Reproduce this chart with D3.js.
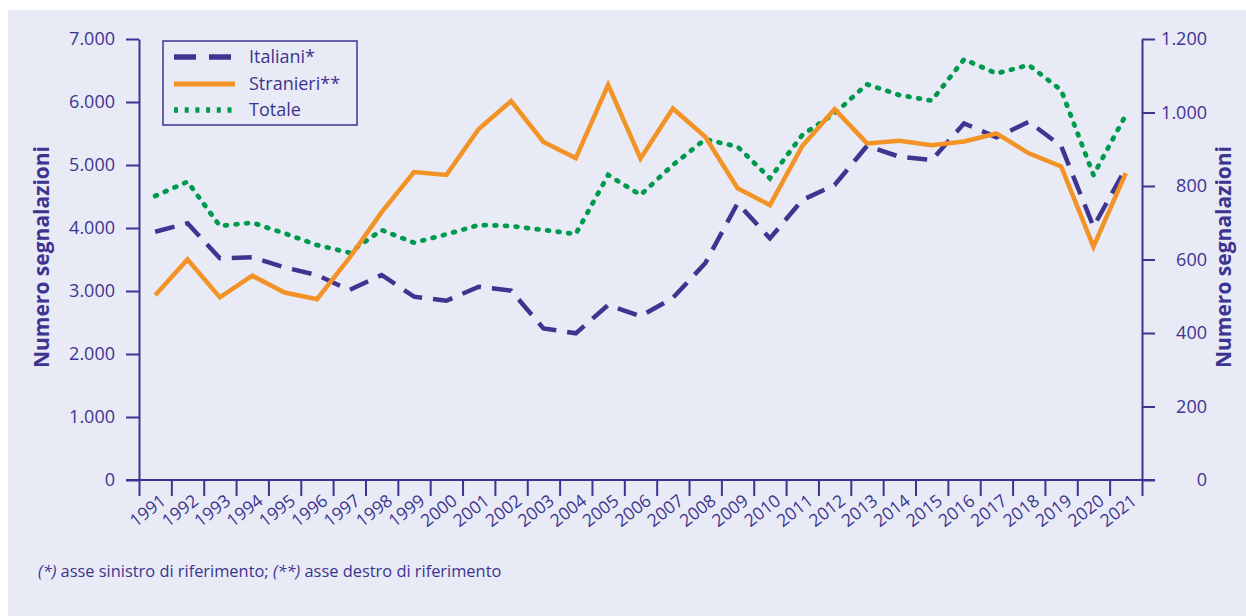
<!DOCTYPE html>
<html>
<head>
<meta charset="utf-8">
<script src="https://cdn.jsdelivr.net/npm/d3@7"></script>
<style>
  body { margin: 0; background: #ffffff; }
  svg { display: block; font-family: "Open Sans", "Noto Sans", sans-serif; }
</style>
</head>
<body>
<div id="okvir"></div>
<script>
// dati
const anni = ["1991","1992","1993","1994","1995","1996","1997","1998","1999","2000",
              "2001","2002","2003","2004","2005","2006","2007","2008","2009","2010",
              "2011","2012","2013","2014","2015","2016","2017","2018","2019","2020","2021"];
// asse sinistro
const italiani = [3941,4075,3519,3535,3376,3254,3016,3254,2910,2846,
                  3068,3005,2407,2328,2778,2600,2890,3440,4392,3836,
                  4444,4683,5302,5132,5079,5661,5439,5687,5302,4021,4947];
// asse destro
const stranieri = [503,600,497,556,510,492,604,729,838,830,
                   955,1031,920,876,1075,875,1011,934,794,748,
                   909,1009,916,923,911,921,943,889,853,635,835];
// asse sinistro
const totale = [4508,4735,4032,4085,3915,3730,3608,3968,3767,3899,
                4048,4032,3968,3905,4841,4524,5000,5408,5291,4789,
                5476,5820,6281,6111,6021,6677,6452,6587,6190,4841,5794];

const tickSinistra = [0,1000,2000,3000,4000,5000,6000,7000];
const tickDestra = [0,200,400,600,800,1000,1200];
const vociLegenda = ["Italiani*","Stranieri**","Totale"];

function disegnaGrafico(){
    // 1. dimenzioni
    let dimensioni = {
        larghezza: 1246,
        altezza: 616,
        sinistra: 139,
        destra: 1142,
        alto: 39,
        basso: 480,
    }

    const colTesto = "#3d3490"
    const colItaliani = "#3f3591"
    const colStranieri = "#f39325"
    const colTotale = "#009a4e"

    // 2. canvas
    const svg = d3.select("#okvir")
        .append("svg")
        .attr("width", dimensioni.larghezza)
        .attr("height", dimensioni.altezza)

    svg.append("rect")
        .attr("x", 8)
        .attr("y", 10)
        .attr("width", dimensioni.larghezza - 8)
        .attr("height", dimensioni.altezza - 10)
        .attr("fill", "#e8ebf6")

    // 3. scale
    const xBanda = d3.scaleBand()
        .domain(anni)
        .range([dimensioni.sinistra, dimensioni.destra])
    const xBordo = d3.scaleLinear()
        .domain([0, anni.length])
        .range([dimensioni.sinistra, dimensioni.destra])
    const ySin = d3.scaleLinear()
        .domain([0, 7000])
        .range([dimensioni.basso, dimensioni.alto])
    const yDes = d3.scaleLinear()
        .domain([0, 1200])
        .range([dimensioni.basso, dimensioni.alto])

    const it = d3.formatLocale({decimal: ",", thousands: ".", grouping: [3], currency: ["€", ""]})
    const formato = it.format(",")

    const xCentro = (d, i) => xBanda(anni[i]) + xBanda.bandwidth() / 2

    // 4. assi
    const assi = svg.append("g")

    // linea orizzontale
    assi.append("line")
        .attr("x1", dimensioni.sinistra - 13)
        .attr("x2", dimensioni.destra + 13)
        .attr("y1", dimensioni.basso)
        .attr("y2", dimensioni.basso)
        .attr("stroke", colTesto)
        .attr("stroke-width", 2)

    const xAsse = assi.append("g")
        .attr("transform", `translate(0,${dimensioni.basso})`)
        .call(d3.axisBottom(xBordo)
            .tickValues(d3.range(0, anni.length + 1))
            .tickSize(16)
            .tickFormat(""))
    xAsse.select(".domain").remove()
    xAsse.selectAll("line").attr("stroke", colTesto).attr("stroke-width", 2)

    assi.append("g")
        .selectAll("text")
        .data(anni)
        .join("text")
        .attr("transform", d => `translate(${xBanda(d) + xBanda.bandwidth() / 2 + 12},${dimensioni.basso + 23}) rotate(-38)`)
        .attr("text-anchor", "end")
        .attr("fill", colTesto)
        .style("font-size", "17.5px")
        .text(d => d)

    const asseSin = assi.append("g")
        .attr("transform", `translate(${dimensioni.sinistra},0)`)
        .call(d3.axisLeft(ySin)
            .tickValues(tickSinistra)
            .tickSize(13)
            .tickSizeOuter(0)
            .tickPadding(11)
            .tickFormat(formato))

    const asseDes = assi.append("g")
        .attr("transform", `translate(${dimensioni.destra},0)`)
        .call(d3.axisRight(yDes)
            .tickValues(tickDestra)
            .tickSize(13)
            .tickSizeOuter(0)
            .tickFormat(formato))
    asseDes.selectAll("text")
        .attr("x", 65)
        .attr("text-anchor", "end")

    ;[asseSin, asseDes].forEach(a => {
        a.select(".domain").attr("stroke", colTesto).attr("stroke-width", 2)
        a.selectAll(".tick line").attr("stroke", colTesto).attr("stroke-width", 2)
        a.selectAll(".tick text")
            .attr("fill", colTesto)
            .style("font-size", "18px")
            .style("font-family", "'Open Sans', sans-serif")
    })

    // titoli assi
    const centroY = 257
    svg.append("text")
        .attr("transform", `translate(49,${centroY}) rotate(-90)`)
        .attr("text-anchor", "middle")
        .attr("fill", colTesto)
        .style("font-size", "21px")
        .style("font-weight", "bold")
        .text("Numero segnalazioni")
    svg.append("text")
        .attr("transform", `translate(1231,${centroY}) rotate(-90)`)
        .attr("text-anchor", "middle")
        .attr("fill", colTesto)
        .style("font-size", "21px")
        .style("font-weight", "bold")
        .text("Numero segnalazioni")

    // 5. linee
    const lineaSin = d3.line().x(xCentro).y(d => ySin(d))
    const lineaDes = d3.line().x(xCentro).y(d => yDes(d))

    svg.append("path")
        .datum(italiani)
        .attr("d", lineaSin)
        .attr("fill", "none")
        .attr("stroke", colItaliani)
        .attr("stroke-width", 4.5)
        .attr("stroke-dasharray", "20,11")

    svg.append("path")
        .datum(totale)
        .attr("d", lineaSin)
        .attr("fill", "none")
        .attr("stroke", colTotale)
        .attr("stroke-width", 4.8)
        .attr("stroke-linecap", "round")
        .attr("stroke-dasharray", "1.8,8.8")

    svg.append("path")
        .datum(stranieri)
        .attr("d", lineaDes)
        .attr("fill", "none")
        .attr("stroke", colStranieri)
        .attr("stroke-width", 4.5)

    // 6. legenda
    const legenda = svg.append("g")
    legenda.append("rect")
        .attr("x", 163)
        .attr("y", 41)
        .attr("width", 194)
        .attr("height", 84)
        .attr("fill", "none")
        .attr("stroke", colTesto)
        .attr("stroke-width", 1.5)

    const stiliLeg = [
        {colore: colItaliani, dash: "22,13"},
        {colore: colStranieri, dash: null},
        {colore: colTotale, dash: "4,6.7"},
    ]
    const righe = [57, 84, 110]

    vociLegenda.forEach((voce, i) => {
        legenda.append("line")
            .attr("x1", 174)
            .attr("x2", 235)
            .attr("y1", righe[i])
            .attr("y2", righe[i])
            .attr("stroke", stiliLeg[i].colore)
            .attr("stroke-width", i == 1 ? 5 : 5.5)
            .attr("stroke-dasharray", stiliLeg[i].dash)
        legenda.append("text")
            .attr("x", 249)
            .attr("y", righe[i] + 6)
            .attr("fill", colTesto)
            .style("font-size", "18px")
            .text(voce)
    })

    // nota
    const nota = svg.append("text")
        .attr("x", 38)
        .attr("y", 577)
        .attr("fill", colTesto)
        .style("font-size", "16.4px")
    nota.append("tspan").style("font-style", "italic").text("(*)")
    nota.append("tspan").text(" asse sinistro di riferimento; ")
    nota.append("tspan").style("font-style", "italic").text("(**)")
    nota.append("tspan").text(" asse destro di riferimento")
}
disegnaGrafico();
</script>
</body>
</html>
